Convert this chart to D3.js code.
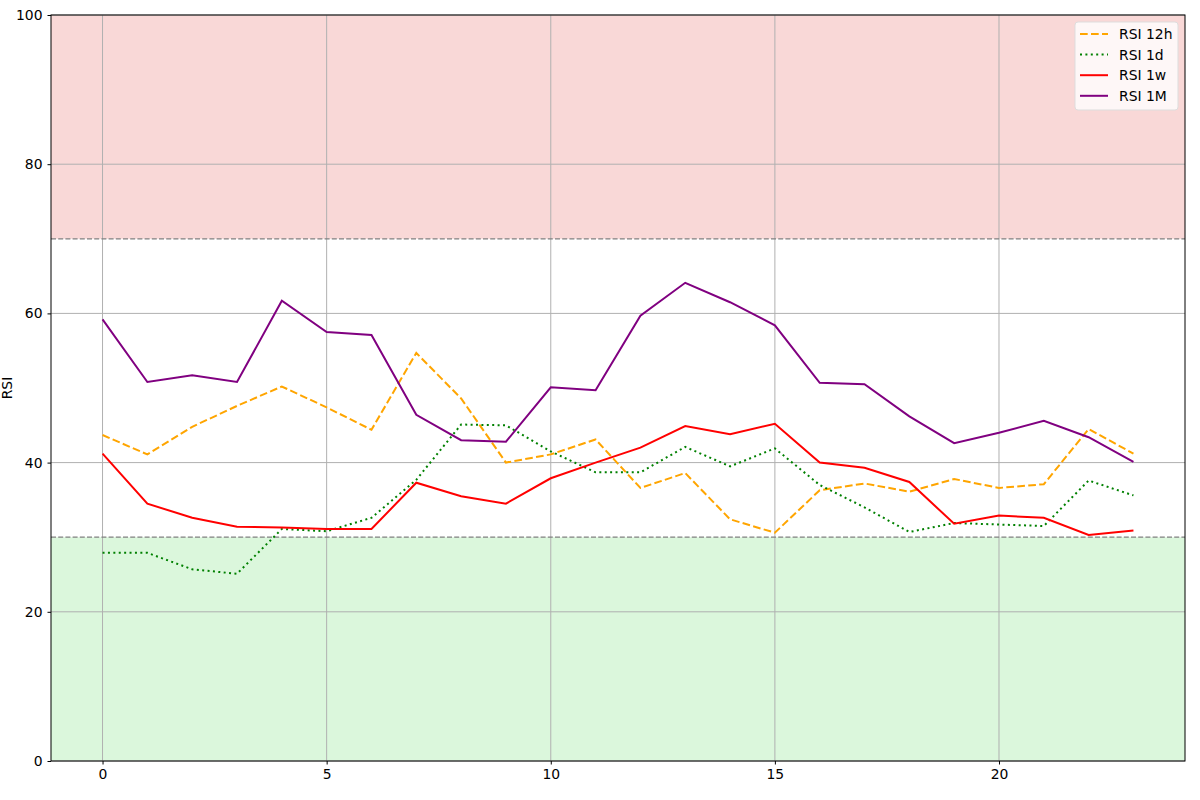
<!DOCTYPE html>
<html>
<head>
<meta charset="utf-8">
<script src="https://cdn.jsdelivr.net/npm/d3@7"></script>
<style>
  body { margin: 0; background: #fff; }
  svg { font-family: "DejaVu Sans", sans-serif; }
</style>
</head>
<body>
<div id="chart"></div>
<script>
// RSI readings per period (x = 0..23)
const steps = d3.range(24);
const rsi12h = [43.7, 41.1, 44.8, 47.6, 50.2, 47.4, 44.4, 54.7, 48.6, 40.0, 41.1, 43.1, 36.6, 38.6, 32.4, 30.6, 36.3, 37.2, 36.1, 37.8, 36.6, 37.1, 44.5, 41.2];
const rsi1d = [27.9, 27.9, 25.7, 25.1, 31.1, 30.8, 32.6, 37.7, 45.1, 45.0, 41.5, 38.7, 38.7, 42.1, 39.5, 41.9, 37.0, 34.0, 30.7, 31.9, 31.7, 31.5, 37.6, 35.6];
const rsi1w = [41.2, 34.5, 32.6, 31.4, 31.3, 31.1, 31.1, 37.3, 35.5, 34.5, 37.9, 40.0, 42.0, 44.9, 43.8, 45.2, 40.0, 39.3, 37.4, 31.8, 32.9, 32.6, 30.3, 30.9];
const rsi1M = [59.2, 50.8, 51.7, 50.8, 61.7, 57.5, 57.1, 46.4, 43.0, 42.8, 50.1, 49.7, 59.7, 64.1, 61.5, 58.4, 50.7, 50.5, 46.2, 42.6, 44.0, 45.6, 43.4, 40.1];

const seriesNames = ['RSI 12h', 'RSI 1d', 'RSI 1w', 'RSI 1M'];
const xTicks = [0, 5, 10, 15, 20];
const yTicks = [0, 20, 40, 60, 80, 100];
const overbought = 70;
const oversold = 30;

const series = [
  { name: seriesNames[0], values: rsi12h, color: 'orange', dash: '7.7,3.3' },
  { name: seriesNames[1], values: rsi1d, color: 'green', dash: '2,3.4' },
  { name: seriesNames[2], values: rsi1w, color: 'red', dash: null },
  { name: seriesNames[3], values: rsi1M, color: 'purple', dash: null }
];

const width = 1200, height = 800;
const margin = { top: 15, right: 15, bottom: 39, left: 51 };
const innerW = width - margin.left - margin.right;
const innerH = height - margin.top - margin.bottom;

const svg = d3.select('#chart').append('svg')
  .attr('width', width)
  .attr('height', height);

// y label, pushed in just enough to stay on the page
svg.append('text')
  .attr('transform', `translate(12, ${margin.top + innerH / 2}) rotate(-90)`)
  .attr('text-anchor', 'middle')
  .attr('font-size', 13.9)
  .attr('fill', '#000')
  .text('RSI');

const g = svg.append('g').attr('transform', `translate(${margin.left},${margin.top})`);

const x = d3.scaleLinear().domain([-1.15, 24.15]).range([0, innerW]);
const y = d3.scaleLinear().domain([0, 100]).range([innerH, 0]);

// zones
g.append('rect')
  .attr('x', 0).attr('y', y(100))
  .attr('width', innerW).attr('height', y(overbought) - y(100))
  .attr('fill', '#f9d8d7');
g.append('rect')
  .attr('x', 0).attr('y', y(oversold))
  .attr('width', innerW).attr('height', y(0) - y(oversold))
  .attr('fill', '#dbf7dc');

// grid
g.append('g').selectAll('line').data(xTicks).join('line')
  .attr('x1', d => x(d)).attr('x2', d => x(d))
  .attr('y1', 0).attr('y2', innerH)
  .attr('stroke', '#b0b0b0').attr('stroke-width', 1);
g.append('g').selectAll('line').data(yTicks).join('line')
  .attr('x1', 0).attr('x2', innerW)
  .attr('y1', d => y(d)).attr('y2', d => y(d))
  .attr('stroke', '#b0b0b0').attr('stroke-width', 1);

// threshold lines
g.append('g').selectAll('line').data([overbought, oversold]).join('line')
  .attr('x1', 0).attr('x2', innerW)
  .attr('y1', d => y(d)).attr('y2', d => y(d))
  .attr('stroke', '#808080').attr('stroke-width', 1.2)
  .attr('stroke-dasharray', '5,2.2');

// lines
const line = d3.line().x((d, i) => x(steps[i])).y(d => y(d));
g.append('g').selectAll('path').data(series).join('path')
  .attr('d', d => line(d.values))
  .attr('fill', 'none')
  .attr('stroke', d => d.color)
  .attr('stroke-width', 2)
  .attr('stroke-dasharray', d => d.dash);

// axes
const xAxis = g.append('g')
  .attr('transform', `translate(0,${innerH})`)
  .call(d3.axisBottom(x).tickValues(xTicks).tickSize(3.5).tickPadding(5));
const yAxis = g.append('g')
  .call(d3.axisLeft(y).tickValues(yTicks).tickSize(3.5).tickPadding(5));
[xAxis, yAxis].forEach(a => {
  a.select('.domain').remove();
  a.selectAll('text').attr('font-size', 13.9).attr('fill', '#000').attr('font-family', '"DejaVu Sans", sans-serif');
  a.selectAll('line').attr('stroke', '#000').attr('stroke-width', 1);
});

// frame
g.append('rect')
  .attr('width', innerW).attr('height', innerH)
  .attr('fill', 'none').attr('stroke', '#000').attr('stroke-width', 1);

// legend
const legend = g.append('g').attr('transform', `translate(${innerW - 110}, 7)`);
legend.append('rect')
  .attr('width', 103).attr('height', 88)
  .attr('rx', 3)
  .attr('fill', 'rgba(255,255,255,0.8)')
  .attr('stroke', '#dddddd');
const item = legend.selectAll('g.item').data(series).join('g')
  .attr('class', 'item')
  .attr('transform', (d, i) => `translate(0, ${12 + i * 20.6})`);
item.append('line')
  .attr('x1', 5).attr('x2', 33)
  .attr('stroke', d => d.color)
  .attr('stroke-width', 2)
  .attr('stroke-dasharray', d => d.dash);
item.append('text')
  .attr('x', 44).attr('y', 5)
  .attr('font-size', 13.9)
  .attr('fill', '#000')
  .text(d => d.name);
</script>
</body>
</html>
